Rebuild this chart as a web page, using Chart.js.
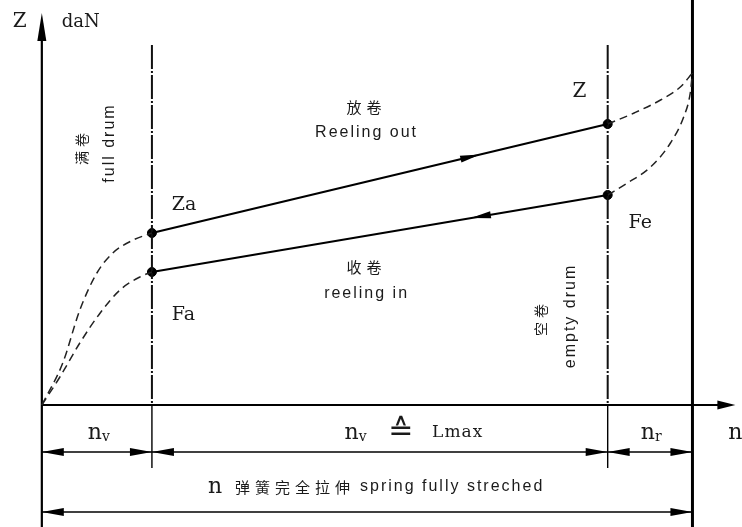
<!DOCTYPE html>
<html>
<head>
<meta charset="utf-8">
<script src="https://cdn.jsdelivr.net/npm/chart.js@4"></script>
<style>
  body { margin: 0; background: #fff; }
  canvas { display: block; }
</style>
</head>
<body>
<canvas id="mycanvas" width="742" height="527"></canvas>
<script>
// turn counts on the n axis: origin, end of preload, end of working range, spring fully stretched
var turnMarks = [0, 10, 51.4, 59.1];

// reeling out (Za -> Z) and reeling in (Fe -> Fa), daN
var reelOutX = [10, 51.4];
var reelOutY = [43, 70.25];
var reelInX = [10, 51.4];
var reelInY = [33.25, 52.5];

// dashed preload curves (full drum side)
var preOutX = [0, 1.9, 3.45, 5, 6.45, 8.3, 10];
var preOutY = [0, 10.5, 23.75, 33, 38, 41.25, 43];
var preInX = [0, 1.64, 3.45, 5.3, 7.1, 8.9, 10];
var preInY = [0, 7, 15.5, 23, 28.75, 32, 33.25];

// dashed reserve curves (empty drum side)
var endOutX = [51.4, 53.8, 56.2, 58, 59.1];
var endOutY = [70.25, 73, 76.25, 79.5, 83];
var endInX = [51.4, 53.2, 55.3, 57.1, 58.3, 58.9, 59.1];
var endInY = [52.5, 55.5, 59.5, 65.5, 72, 78, 83];

var yTop = 98, xEnd = 63;

function pts(xs, ys) {
  var out = [];
  for (var i in xs) out.push({x: xs[i], y: ys[i]});
  return out;
}

function solid(data, w) {
  return { data: data, showLine: true, borderColor: '#000', borderWidth: w, pointRadius: 0, fill: false };
}
function dashed(data) {
  return { data: data, showLine: true, borderColor: '#222', borderWidth: 1.5, borderDash: [8, 5],
           pointRadius: 0, fill: false, cubicInterpolationMode: 'monotone' };
}
function dashDot(xv) {
  return { data: [{x: xv, y: 90}, {x: xv, y: 0}], showLine: true, borderColor: '#111', borderWidth: 2,
           borderDash: [24, 2, 2, 2], pointRadius: 0, fill: false };
}

var serif = '"DejaVu Serif", "Liberation Serif", serif';
var sans = '"Liberation Sans", Arial, sans-serif';
var cjk = '"Noto Sans CJK SC", sans-serif';

function arrowHead(ctx, tx, ty, ang, len, half) {
  ctx.save();
  ctx.translate(tx, ty);
  ctx.rotate(ang);
  ctx.beginPath();
  ctx.moveTo(0, 0);
  ctx.lineTo(-len, -half);
  ctx.lineTo(-len, half);
  ctx.closePath();
  ctx.fill();
  ctx.restore();
}

var sketch = {
  id: 'sketch',
  afterDatasetsDraw: function(chart) {
    var ctx = chart.ctx, sx = chart.scales.x, sy = chart.scales.y;
    var px = function(v) { return sx.getPixelForValue(v); };
    var py = function(v) { return sy.getPixelForValue(v); };
    ctx.save();
    ctx.fillStyle = '#000';
    ctx.strokeStyle = '#000';

    // axis arrows
    arrowHead(ctx, px(0), py(yTop), -Math.PI / 2, 28, 4.5);
    arrowHead(ctx, px(xEnd), py(0), 0, 18, 4.5);

    // direction arrows on the working lines
    var f = 0.72;
    var ax = reelOutX[0] + f * (reelOutX[1] - reelOutX[0]);
    var ay = reelOutY[0] + f * (reelOutY[1] - reelOutY[0]);
    var ang = Math.atan2(py(reelOutY[1]) - py(reelOutY[0]), px(reelOutX[1]) - px(reelOutX[0]));
    arrowHead(ctx, px(ax), py(ay), ang, 20, 3.5);
    var bx = reelInX[0] + 0.7 * (reelInX[1] - reelInX[0]);
    var by = reelInY[0] + 0.7 * (reelInY[1] - reelInY[0]);
    var ang2 = Math.atan2(py(reelInY[0]) - py(reelInY[1]), px(reelInX[0]) - px(reelInX[1]));
    arrowHead(ctx, px(bx), py(by), ang2, 20, 3.5);

    // dimension lines
    function dim(a, b, yv) {
      var x1 = px(a), x2 = px(b), yy = py(yv);
      ctx.lineWidth = 1.4;
      ctx.beginPath(); ctx.moveTo(x1, yy); ctx.lineTo(x2, yy); ctx.stroke();
      arrowHead(ctx, x1, yy, Math.PI, 22, 4);
      arrowHead(ctx, x2, yy, 0, 22, 4);
    }
    dim(turnMarks[0], turnMarks[1], -11.75);
    dim(turnMarks[1], turnMarks[2], -11.75);
    dim(turnMarks[2], turnMarks[3], -11.75);
    dim(turnMarks[0], turnMarks[3], -26.75);

    // texts
    ctx.fillStyle = '#1a1a1a';
    ctx.textBaseline = 'middle';
    function txt(s, xv, yv, font, align, spacing) {
      ctx.font = font;
      ctx.letterSpacing = spacing || '0px';
      ctx.textAlign = align || 'center';
      ctx.fillText(s, px(xv), py(yv));
      ctx.letterSpacing = '0px';
    }
    function sub(base, s, xv, yv) {
      ctx.textAlign = 'left';
      ctx.font = '22px ' + serif;
      var w = ctx.measureText(base).width;
      ctx.fillText(base, px(xv), py(yv));
      ctx.font = '14px ' + serif;
      ctx.fillText(s, px(xv) + w, py(yv) + 4);
    }
    function rot(s, xv, yv, font, spacing) {
      ctx.save();
      ctx.translate(px(xv), py(yv));
      ctx.rotate(-Math.PI / 2);
      ctx.font = font;
      ctx.letterSpacing = spacing || '0px';
      ctx.textAlign = 'center';
      ctx.fillText(s, 0, 0);
      ctx.restore();
    }
    txt('Z', -2.0, 95.75, '20px ' + serif);
    txt('daN', 1.8, 95.75, '18px ' + serif, 'left');
    txt('Za', 11.8, 50, '19px ' + serif, 'left');
    txt('Fa', 11.8, 22.5, '19px ' + serif, 'left');
    txt('Z', 48.2, 78.25, '20px ' + serif, 'left');
    txt('Fe', 53.3, 45.5, '19px ' + serif, 'left');
    txt('放卷', 29.5, 74.5, '15px ' + cjk, 'center', '5px');
    txt('Reeling out', 29.5, 68, '16px ' + sans, 'center', '2px');
    txt('收卷', 29.5, 34.5, '15px ' + cjk, 'center', '5px');
    txt('reeling in', 29.5, 27.75, '16px ' + sans, 'center', '2px');
    rot('满卷', 3.64, 64.5, '14px ' + cjk, '4px');
    rot('full drum', 6.2, 65.5, '16px ' + sans, '2px');
    rot('空卷', 45.3, 21.75, '14px ' + cjk, '4px');
    rot('empty drum', 48, 22.25, '16px ' + sans, '2px');

    sub('n', 'v', 4.18, -7);
    sub('n', 'v', 27.5, -7);
    txt('\u2259', 32.6, -6.75, '30px "DejaVu Sans", sans-serif');
    txt('Lmax', 35.45, -7, '17px ' + serif, 'left', '1px');
    sub('n', 'r', 54.4, -7);
    txt('n', 63, -7, '22px ' + serif);
    txt('n', 15.1, -20.5, '22px ' + serif, 'left');
    txt('弹簧完全拉伸', 17.55, -20.5, '15px ' + cjk, 'left', '5px');
    txt('spring fully streched', 28.9, -20.5, '16px ' + sans, 'left', '2px');
    ctx.restore();
  }
};

var datasets = [
  solid(pts(reelOutX, reelOutY), 2.2),
  solid(pts(reelInX, reelInY), 2.2),
  dashed(pts(preOutX, preOutY)),
  dashed(pts(preInX, preInY)),
  dashed(pts(endOutX, endOutY)),
  dashed(pts(endInX, endInY)),
  dashDot(turnMarks[1]),
  dashDot(turnMarks[2]),
  solid([{x: turnMarks[1], y: 0}, {x: turnMarks[1], y: -15.75}], 1.4),
  solid([{x: turnMarks[2], y: 0}, {x: turnMarks[2], y: -15.75}], 1.4),
  solid([{x: turnMarks[0], y: -30.5}, {x: turnMarks[0], y: yTop - 3}], 2.2),
  solid([{x: turnMarks[0], y: 0}, {x: xEnd - 1.5, y: 0}], 2.2),
  solid([{x: turnMarks[3], y: -30.5}, {x: turnMarks[3], y: 101.25}], 3),
  { data: pts(reelOutX.concat(reelInX), reelOutY.concat(reelInY)), showLine: false,
    pointRadius: 4.5, pointBackgroundColor: '#000', pointBorderColor: '#000' }
];

var ctx = document.getElementById('mycanvas');
var sketchChart = new Chart(ctx, {
  type: 'scatter',
  data: { datasets: datasets },
  options: {
    responsive: false,
    animation: false,
    layout: { padding: 0, autoPadding: false },
    plugins: { legend: { display: false }, tooltip: { enabled: false } },
    scales: {
      x: { type: 'linear', display: false, min: -3.8, max: 63.6 },
      y: { type: 'linear', display: false, min: -30.5, max: 101.25 }
    }
  },
  plugins: [sketch]
});
</script>
</body>
</html>
